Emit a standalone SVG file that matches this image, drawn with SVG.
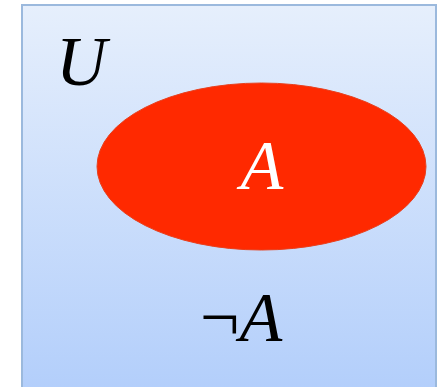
<svg xmlns="http://www.w3.org/2000/svg" width="440" height="387" viewBox="0 0 440 387">
<defs>
<linearGradient id="bg" x1="0" y1="0" x2="0" y2="1">
<stop offset="0" stop-color="#e6effc"/>
<stop offset="1" stop-color="#b2cefb"/>
</linearGradient>
</defs>
<style>
.m{font-family:"Liberation Serif","DejaVu Serif",serif;font-style:italic;font-size:70px}
</style>
<rect width="440" height="387" fill="#ffffff"/>
<g id="universe">
<rect x="22" y="5" width="414" height="390" fill="url(#bg)" stroke="#9bb9dd" stroke-width="2"/>
<text class="m" x="56" y="85" fill="#000">U</text>
<text class="m" x="200" y="341" fill="#000" style="font-style:normal">¬<tspan style="font-style:italic">A</tspan></text>
</g>
<g id="setA">
<ellipse cx="261.5" cy="166.5" rx="164.5" ry="83.5" fill="#ff2900" stroke="#e8401e" stroke-width="1"/>
<text class="m" x="262" y="189" fill="#ffffff" text-anchor="middle">A</text>
</g>
</svg>
